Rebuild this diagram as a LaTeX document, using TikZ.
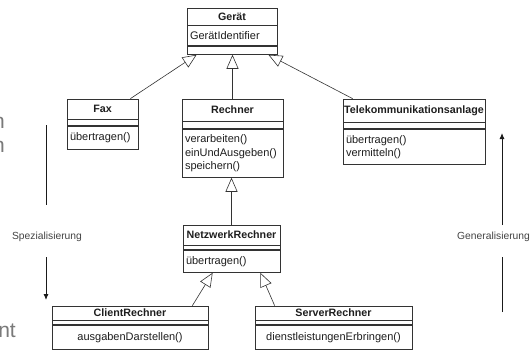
\documentclass[tikz,border=0pt]{standalone}
\usepackage{fontspec}
\setmainfont{Liberation Sans}
\usepackage{tikz}
\usetikzlibrary{arrows.meta,positioning}
\definecolor{linec}{HTML}{333333}
\definecolor{textc}{HTML}{1E1E1E}
\definecolor{notec}{HTML}{444444}
\definecolor{dirc}{HTML}{1A1A1A}
\definecolor{fragc}{HTML}{7A7A7A}
\tikzset{
  >={Latex[length=6pt,width=5pt]},
  hd/.style={draw=linec,line width=0.7pt,fill=white,inner xsep=1pt,inner ysep=0pt,align=center,font=\fontsize{10.7}{12}\selectfont\bfseries,text=textc},
  cp/.style={draw=linec,line width=0.7pt,fill=white,inner xsep=3pt,inner ysep=0pt,align=left,font=\fontsize{11}{13.3}\selectfont,text=textc},
  cpc/.style={cp,align=center},
  inh/.style={-{Triangle[open,length=14pt,width=12pt]},draw=linec,line width=0.6pt},
  dir/.style={draw=dirc,line width=0.9pt},
  note/.style={font=\fontsize{10.3}{12}\selectfont,text=notec,inner sep=0pt},
  frag/.style={font=\fontsize{21}{24}\selectfont,text=fragc,inner sep=0pt,anchor=base east},
}
\begin{document}
\begin{tikzpicture}[x=1pt,y=-1pt]
  \path[fill=white,use as bounding box] (0,0) rectangle (530,351);
  \node[frag] (fragA) at (5,128) {n};
  \node[frag] (fragB) at (5,152) {n};
  \node[frag] (fragC) at (16,337) {nt};
  \node[hd,text width=88pt,minimum height=17pt] (geraet) at (232,16.5) {Gerät};
  \node[cp,text width=84pt,minimum height=20pt,below=0pt of geraet] (geraetA) {GerätIdentifier};
  \node[cp,text width=84pt,minimum height=8pt,below=0pt of geraetA] (geraetO) {};
  \node[hd,text width=69pt,minimum height=20pt] (fax) at (102.5,109) {Fax};
  \node[cp,text width=65pt,minimum height=6pt,below=0pt of fax] (faxA) {};
  \node[cp,text width=65pt,minimum height=23pt,below=0pt of faxA] (faxO) {übertragen()};
  \node[hd,text width=99pt,minimum height=22pt] (rechner) at (232.5,110) {Rechner};
  \node[cp,text width=95pt,minimum height=7pt,below=0pt of rechner] (rechnerA) {};
  \node[cp,text width=95pt,minimum height=48pt,below=0pt of rechnerA] (rechnerO) {verarbeiten()\\einUndAusgeben()\\speichern()};
  \node[hd,text width=140pt,minimum height=23pt] (telekom) at (414,110.5) {Telekommunikationsanlage};
  \node[cp,text width=136pt,minimum height=6pt,below=0pt of telekom] (telekomA) {};
  \node[cp,text width=136pt,minimum height=35pt,below=0pt of telekomA] (telekomO) {übertragen()\\vermitteln()};
  \node[hd,text width=95pt,minimum height=20pt] (netz) at (231.5,235) {NetzwerkRechner};
  \node[cp,text width=91pt,minimum height=4pt,below=0pt of netz] (netzA) {};
  \node[cp,text width=91pt,minimum height=22pt,below=0pt of netzA] (netzO) {übertragen()};
  \node[hd,text width=154pt,minimum height=14pt] (client) at (130,313) {ClientRechner};
  \node[cp,text width=150pt,minimum height=4pt,below=0pt of client] (clientA) {};
  \node[cpc,text width=150pt,minimum height=24pt,below=0pt of clientA] (clientO) {ausgabenDarstellen()};
  \node[hd,text width=155pt,minimum height=14pt] (server) at (333.5,313) {ServerRechner};
  \node[cp,text width=151pt,minimum height=4pt,below=0pt of server] (serverA) {};
  \node[cpc,text width=151pt,minimum height=24pt,below=0pt of serverA] (serverO) {dienstleistungenErbringen()};
  \draw[inh] ([xshift=-8pt]fax.north east) -- ([xshift=10pt]geraetO.south west);
  \draw[inh] (rechner.north) -- (rechner.north |- geraetO.south);
  \draw[inh] ([xshift=10pt]telekom.north west) -- ([xshift=-9pt]geraetO.south east);
  \draw[inh] (netz.north) -- (netz.north |- rechnerO.south);
  \draw[inh] ([xshift=-16pt]client.north east) -- ([xshift=30pt]netzO.south west);
  \draw[inh] ([xshift=20pt]server.north west) -- ([xshift=-20pt]netzO.south east);
  \node[note] (spez) at (47,237) {Spezialisierung};
  \coordinate (spezTop) at (46,125);
  \coordinate (spezA) at (46,205);
  \coordinate (spezB) at (46,257);
  \coordinate (spezEnd) at (46,300);
  \draw[dir] (spezTop) -- (spezA);
  \draw[dir,->] (spezB) -- (spezEnd);
  \node[note,anchor=west] (gen) at (457,237) {Generalisierung};
  \coordinate (genStart) at (502,312);
  \coordinate (genB) at (502,257);
  \coordinate (genA) at (502,225);
  \coordinate (genEnd) at (502,133);
  \draw[dir] (genStart) -- (genB);
  \draw[dir,->] (genA) -- (genEnd);
\end{tikzpicture}
\end{document}
